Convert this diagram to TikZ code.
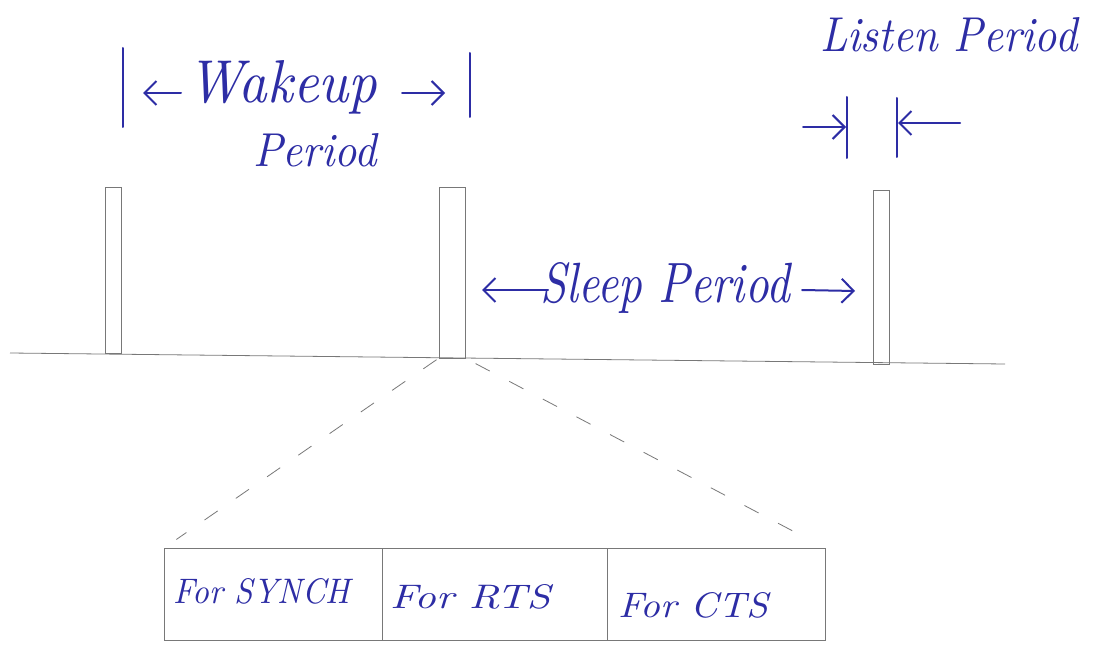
\documentclass[tikz,border=0pt]{standalone}
\usetikzlibrary{arrows.meta}
\definecolor{ink}{RGB}{45,45,165}
\definecolor{pencil}{RGB}{120,120,120}
\newcommand{\handw}[3]{\resizebox{#1}{#2}{\itshape #3}}
\begin{document}
\begin{tikzpicture}[x=1pt,y=-1pt,
  inkline/.style={draw=ink,line width=2pt,line cap=round},
  inkarrow/.style={inkline,-{Straight Barb[length=12pt,width=24pt]}},
  slot/.style={draw=pencil,line width=0.8pt,inner sep=0pt,outer sep=0pt},
  lbl/.style={text=ink,inner sep=0pt,anchor=base west},
  cell/.style={draw=pencil,line width=0.8pt,minimum height=92pt,inner sep=0pt,outer sep=0pt,anchor=north west},
  dashedlink/.style={draw=pencil,line width=0.8pt,dash pattern=on 16pt off 22pt}
]
\useasboundingbox (0,0) rectangle (1097,647);
\fill[white] (0,0) rectangle (1097,647);

% listen slots on the time line
\node[slot,minimum width=16pt,minimum height=166pt] (r1) at (113,270) {};
\node[slot,minimum width=26pt,minimum height=171pt] (r2) at (452,272.5) {};
\node[slot,minimum width=16pt,minimum height=174pt] (r3) at (881,277) {};
\coordinate (tl1) at (10,353);
\coordinate (tl2) at (1005,364);
\draw[pencil,line width=0.8pt] (tl1) -- (tl2);

% wakeup period
\coordinate (wb1t) at (123,48);  \coordinate (wb1b) at (123,127);
\coordinate (wb2t) at (470,53);  \coordinate (wb2b) at (470,117);
\draw[inkline] (wb1t) -- (wb1b);
\draw[inkline] (wb2t) -- (wb2b);
\coordinate (wa1s) at (181,93); \coordinate (wa1e) at (143,93);
\coordinate (wa2s) at (402,93); \coordinate (wa2e) at (445,93);
\draw[inkarrow] (wa1s) -- (wa1e);
\draw[inkarrow] (wa2s) -- (wa2e);
\node[lbl] (wake) at (187,103) {\handw{190pt}{42pt}{Wakeup}};
\node[lbl] (wper) at (253,167) {\handw{124pt}{33pt}{Period}};

% listen period
\node[lbl] (lis) at (820,52) {\handw{257pt}{34pt}{Listen Period}};
\coordinate (lb1t) at (847,97);  \coordinate (lb1b) at (847,158);
\coordinate (lb2t) at (897,98);  \coordinate (lb2b) at (897,157);
\draw[inkline] (lb1t) -- (lb1b);
\draw[inkline] (lb2t) -- (lb2b);
\coordinate (la1s) at (803,127); \coordinate (la1e) at (846,127);
\coordinate (la2s) at (960,123); \coordinate (la2e) at (898,123);
\draw[inkarrow] (la1s) -- (la1e);
\draw[inkarrow] (la2s) -- (la2e);

% sleep period
\node[lbl] (slp) at (540,302) {\handw{250pt}{40pt}{Sleep Period}};
\coordinate (sa1s) at (548,290); \coordinate (sa1e) at (482,290);
\coordinate (sa2s) at (802,290); \coordinate (sa2e) at (855,291);
\draw[inkarrow] (sa1s) -- (sa1e);
\draw[inkarrow] (sa2s) -- (sa2e);

% frame table
\node[cell,minimum width=218pt] (c1) at (164,548) {};
\node[cell,minimum width=225pt] (c2) at (382,548) {};
\node[cell,minimum width=218pt] (c3) at (607,548) {};
\node[lbl] (t1) at (173,603) {\handw{177pt}{25pt}{For SYNCH}};
\node[lbl] (t2) at (390,608) {\handw{160pt}{24pt}{For RTS}};
\node[lbl] (t3) at (618,617) {\handw{150pt}{25pt}{For CTS}};

% zoom-in links
\draw[dashedlink,shorten <=3pt,shorten >=15pt] (r2.south west) -- (c1.north west);
\draw[dashedlink,shorten <=12pt,shorten >=22pt] (r2.south east) -- (c3.north east);
\end{tikzpicture}
\end{document}
